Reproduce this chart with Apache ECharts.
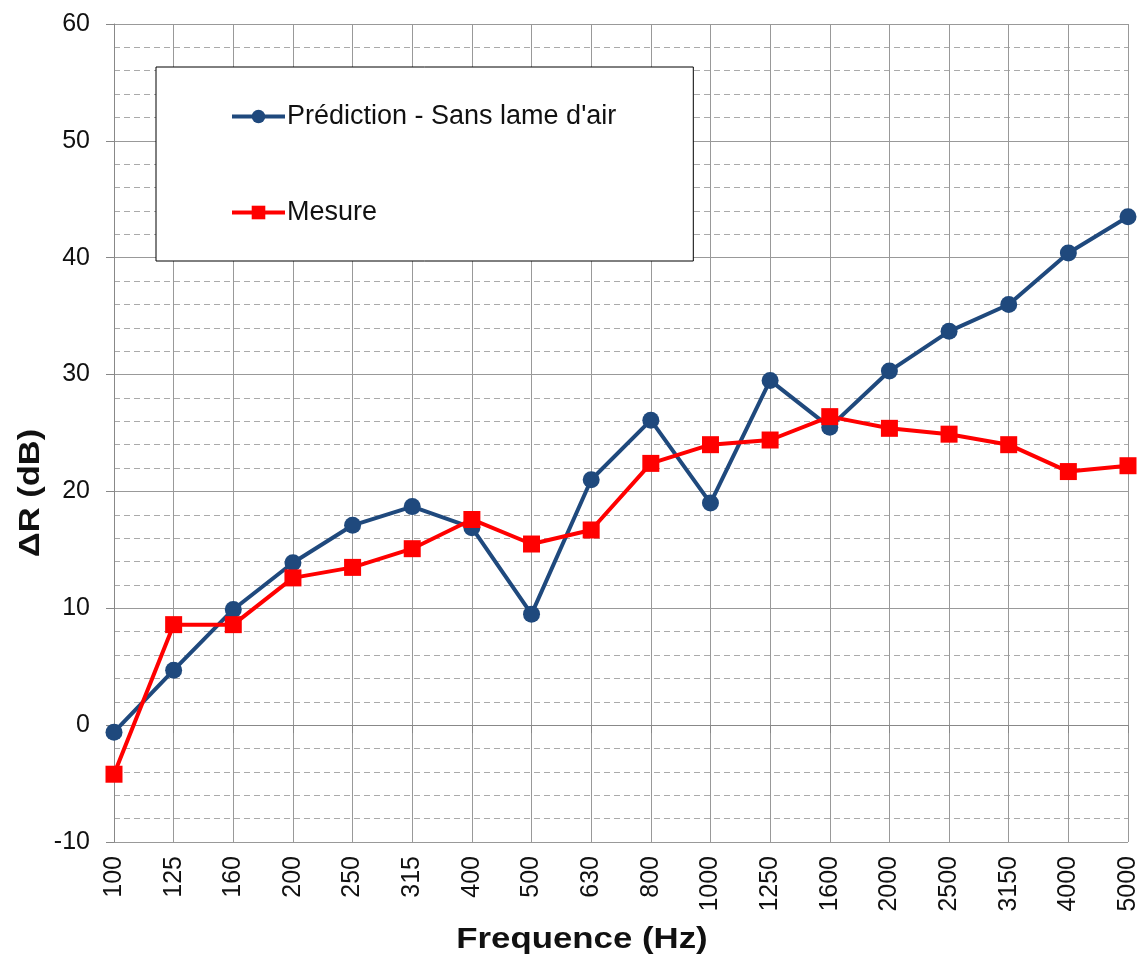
<!DOCTYPE html>
<html>
<head>
<meta charset="utf-8">
<script src="https://cdn.jsdelivr.net/npm/echarts@6/dist/echarts.min.js"></script>
<style>html,body{margin:0;padding:0;background:#fff}#c{width:1141px;height:960px}</style>
</head>
<body>
<div id="c"></div>
<script>
const categories = ['100','125','160','200','250','315','400','500','630','800','1000','1250','1600','2000','2500','3150','4000','5000'];
const prediction = [-0.6, 4.7, 9.9, 13.9, 17.1, 18.7, 16.9, 9.5, 21.0, 26.1, 19.0, 29.5, 25.5, 30.3, 33.7, 36.0, 40.4, 43.5];
const mesure = [-4.2, 8.6, 8.6, 12.6, 13.5, 15.1, 17.6, 15.5, 16.7, 22.4, 24.0, 24.4, 26.4, 25.4, 24.9, 24.0, 21.7, 22.2];
const seriesNames = ["Prédiction - Sans lame d'air", 'Mesure'];

const font = 'Liberation Sans, Arial, sans-serif';
const chart = echarts.init(document.getElementById('c'));
chart.setOption({
  animation: false,
  backgroundColor: '#fff',
  textStyle: { fontFamily: font },
  grid: { left: 114, right: 13, top: 24, bottom: 118, containLabel: false },
  legend: {
    orient: 'vertical',
    left: 156, top: 67,
    padding: [36, 77, 35, 74],
    backgroundColor: '#fff',
    borderColor: '#000',
    borderWidth: 1,
    itemGap: 69,
    itemWidth: 53,
    itemHeight: 17,
    lineStyle: { width: 4 },
    textStyle: { fontSize: 27, color: '#111', fontFamily: font, padding: [0, 0, 0, -3] },
    data: seriesNames
  },
  xAxis: {
    type: 'category',
    data: categories,
    boundaryGap: false,
    axisLine: { lineStyle: { color: '#888', width: 1 } },
    axisTick: { show: true, length: 8, lineStyle: { color: '#888' } },
    axisLabel: { rotate: 90, fontSize: 25, color: '#111', margin: 14, fontFamily: font },
    splitLine: { show: true, lineStyle: { color: '#999', width: 1 } }
  },
  yAxis: {
    type: 'value',
    min: -10, max: 60, interval: 10,
    axisLine: { show: true, lineStyle: { color: '#888', width: 1 } },
    axisTick: { show: true, length: 8, lineStyle: { color: '#888' } },
    axisLabel: { fontSize: 25, color: '#111', margin: 24, fontFamily: font },
    splitLine: { show: true, lineStyle: { color: '#999', width: 1 } },
    minorTick: { show: false, splitNumber: 5 },
    minorSplitLine: { show: true, lineStyle: { color: '#aaa', type: [6, 4], width: 1 } }
  },
  graphic: [
    { type: 'text', x: 31, y: 493, rotation: Math.PI / 2, scaleX: 1.15,
      style: { text: 'ΔR (dB)', font: 'bold 30px ' + font, fill: '#111', align: 'center', verticalAlign: 'middle' } },
    { type: 'text', x: 582, y: 940, scaleX: 1.16,
      style: { text: 'Frequence (Hz)', font: 'bold 30px ' + font, fill: '#111', align: 'center', verticalAlign: 'middle' } }
  ],
  series: [
    {
      name: seriesNames[0], type: 'line', data: prediction,
      symbol: 'circle', symbolSize: 17,
      lineStyle: { color: '#1F497D', width: 4 },
      itemStyle: { color: '#1F497D' },
      z: 3
    },
    {
      name: seriesNames[1], type: 'line', data: mesure,
      symbol: 'rect', symbolSize: 17,
      lineStyle: { color: '#FF0000', width: 4 },
      itemStyle: { color: '#FF0000' },
      z: 4
    }
  ]
});
</script>
</body>
</html>
